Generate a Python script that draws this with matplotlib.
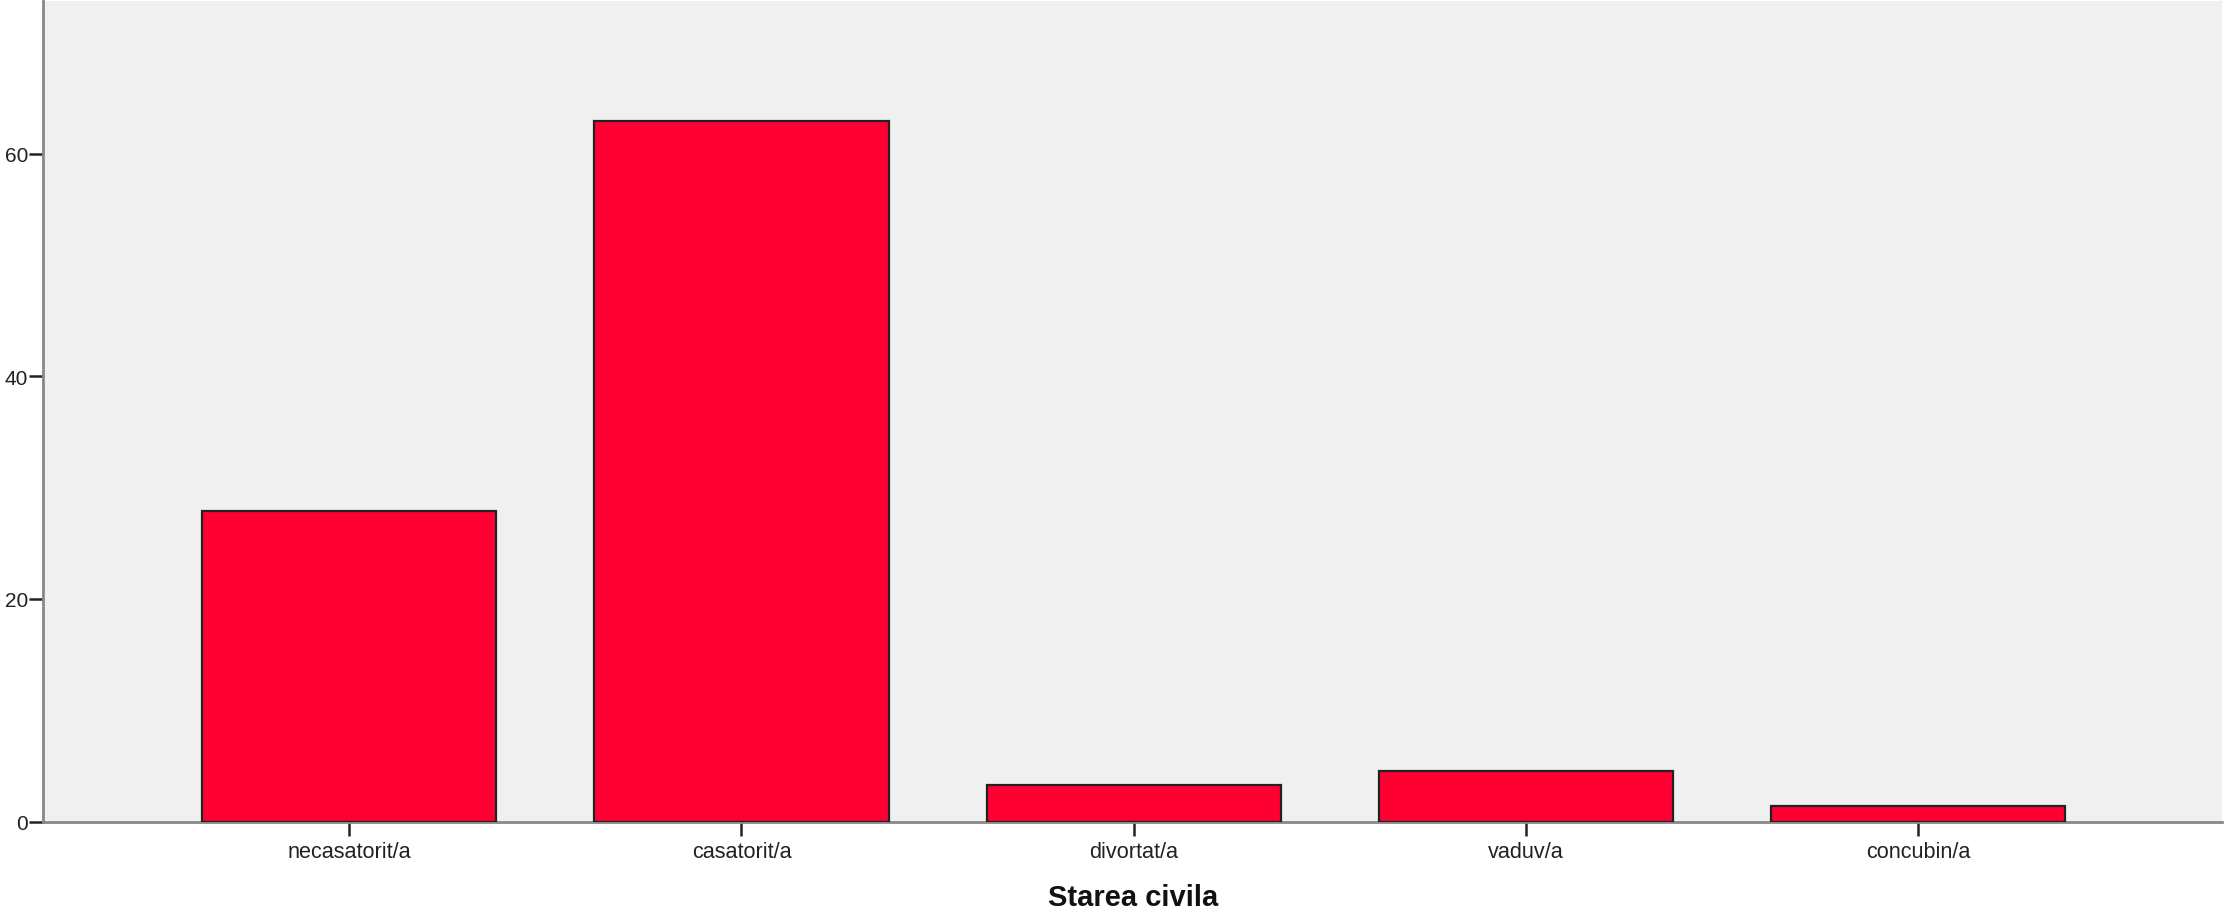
import matplotlib
matplotlib.use('Agg')
import matplotlib.pyplot as plt

# Starea civila - procente
categorii = ['necasatorit/a', 'casatorit/a', 'divortat/a', 'vaduv/a', 'concubin/a']
procente = [27.9, 62.9, 3.3, 4.55, 1.4]
y_ticks = [0, 20, 40, 60]

plt.rcParams['font.family'] = ['Liberation Sans', 'DejaVu Sans']

fig = plt.figure(figsize=(22.24, 9.12), dpi=100)
ax = fig.add_axes([0.0195, 0.0981, 0.9796, 0.8997])
ax.set_facecolor('#f0f0f0')

x = list(range(len(categorii)))
ax.bar(x, procente, width=0.75, color='#ff0033', edgecolor='#222222', linewidth=1.6, zorder=3)

ax.set_xlim(-0.78, 4.775)
ax.set_ylim(0, 73.7)
ax.set_xticks(x)
ax.set_xticklabels(categorii, fontsize=15.6, color='#222222')
ax.set_yticks(y_ticks)
ax.set_yticklabels([str(v) for v in y_ticks], fontsize=15, color='#222222')

ax.tick_params(axis='y', length=10, width=1.8, color='#222222', pad=1)
ax.tick_params(axis='x', length=10, width=1.8, color='#222222', pad=4)

for side in ['top', 'right']:
    ax.spines[side].set_visible(False)
for side in ['left', 'bottom']:
    ax.spines[side].set_color('#888888')
    ax.spines[side].set_linewidth(2)

ax.set_xlabel('Starea civila', fontsize=21, fontweight='bold', labelpad=15, color='#111111')

fig.savefig('out.png', dpi=100)
